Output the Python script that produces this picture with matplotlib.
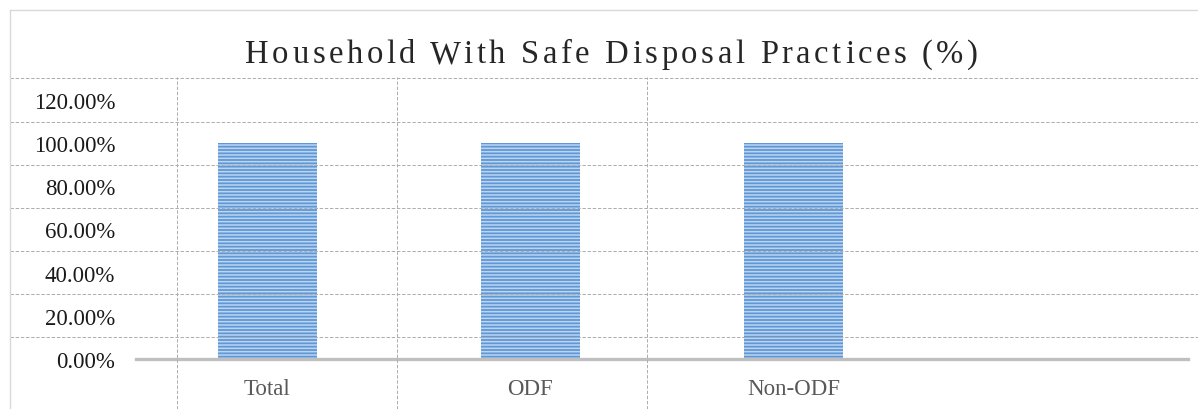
import matplotlib
matplotlib.use('Agg')
import matplotlib.pyplot as plt
from matplotlib.lines import Line2D
from matplotlib.ticker import PercentFormatter

# chart data
categories = ['Total', 'ODF', 'Non-ODF', '']
safe_disposal = [1.00, 1.00, 1.00]
y_ticks = [0.0, 0.2, 0.4, 0.6, 0.8, 1.0, 1.2]
title = 'Household With Safe Disposal Practices (%)'

W, H = 1198, 410
plt.rcParams['font.family'] = ['Liberation Serif', 'DejaVu Serif']
plt.rcParams['hatch.linewidth'] = 1.1

fig = plt.figure(figsize=(W/100, H/100), dpi=100)
ax = fig.add_axes([136/W, (H-360)/H, 1052/W, 259/H])

grid_kw = dict(color='#ADADAD', lw=0.7, linestyle=(0, (3.5, 1.8)))

# dashed table rules behind the chart
for yv in [0.1, 0.3, 0.5, 0.7, 0.9, 1.1, 1.3]:
    ax.plot([(10-136)/1052, (W-136)/1052], [yv, yv], transform=ax.get_yaxis_transform(),
            clip_on=False, zorder=2.5, **grid_kw)
for xp in [177, 397, 647]:
    fig.add_artist(Line2D([xp/W, xp/W], [0, (H-78)/H], **grid_kw))

# page frame
fig.add_artist(Line2D([10/W, 1], [(H-11)/H, (H-11)/H], color='#D9D9D9', lw=1.0))
fig.add_artist(Line2D([10/W, 10/W], [0, (H-11)/H], color='#D9D9D9', lw=1.0))

x = list(range(len(categories)))
ax.bar(x[:len(safe_disposal)], safe_disposal, width=0.38, color='#5F98D6',
       edgecolor='#BCD5F0', linewidth=0, hatch='-----', zorder=2)

ax.set_xlim(-0.5, len(categories)-0.5)
ax.set_ylim(0, 1.2)
ax.set_yticks(y_ticks)
ax.yaxis.set_major_formatter(PercentFormatter(xmax=1, decimals=2))
ax.set_xticks(x)
ax.set_xticklabels(categories)

for s in ['top', 'right', 'left']:
    ax.spines[s].set_visible(False)
ax.spines['bottom'].set_color('#BFBFBF')
ax.spines['bottom'].set_linewidth(2.4)
ax.spines['bottom'].set_zorder(3)

ax.tick_params(axis='y', length=0, pad=15, labelsize=16.5, labelcolor='#1A1A1A')
ax.tick_params(axis='x', length=0, pad=14, labelsize=16.5, labelcolor='#595959')

# letter-spaced title, laid out one glyph at a time
fig.canvas.draw()
renderer = fig.canvas.get_renderer()
tfont = dict(fontsize=23.5, color='#262626')

def text_width(s):
    t = fig.text(0, 0, s, **tfont)
    w = t.get_window_extent(renderer).width
    t.remove()
    return w

x_left, x_right, baseline = 245, 978, 63
natural = text_width(title)
spacing = (x_right - x_left - natural) / (len(title) - 1)
for i, ch in enumerate(title):
    if ch == ' ':
        continue
    left = x_left + text_width(title[:i+1]) - text_width(ch) + i*spacing
    fig.text(left/W, (H-baseline)/H, ch, ha='left', va='baseline', **tfont)

plt.savefig('out.png', dpi=100)
